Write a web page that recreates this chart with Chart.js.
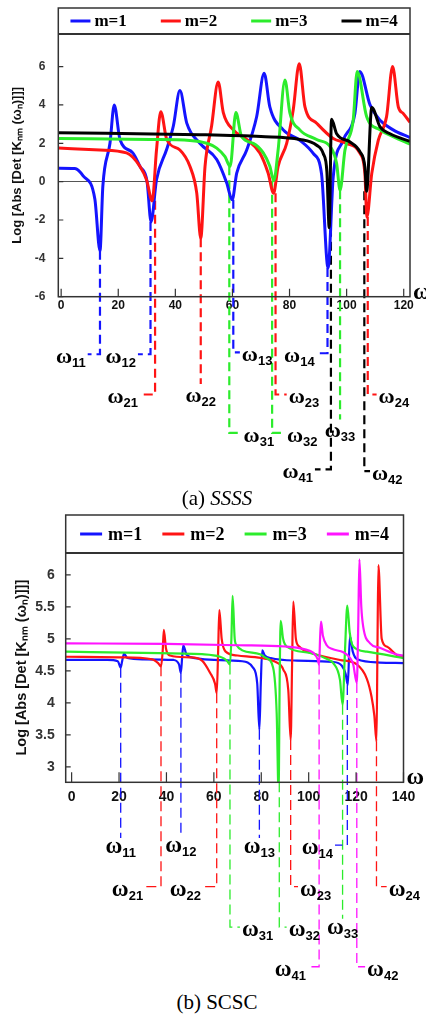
<!DOCTYPE html>
<html>
<head>
<meta charset="utf-8">
<script src="https://cdn.jsdelivr.net/npm/chart.js@4.4.1/dist/chart.umd.min.js"></script>
<style>
  body { margin: 0; background: #fff; }
  #wrap { position: relative; width: 426px; height: 1017px; overflow: hidden; }
  canvas { position: absolute; left: 0; }
  #ssss { top: 0; }
  #scsc { top: 505px; }
  .cap { position: absolute; left: 4px; width: 426px; text-align: center; font: 21px "Liberation Serif", serif; line-height: 24px; color: #000; }
</style>
</head>
<body>
<div id="wrap">
  <canvas id="ssss" width="426" height="485" style="width:426px;height:485px"></canvas>
  <canvas id="scsc" width="426" height="485" style="width:426px;height:485px"></canvas>
  <div class="cap" style="top:486px">(a) <i>SSSS</i></div>
  <div class="cap" style="top:990px">(b) SCSC</div>
</div>
<script>
// ---------- (a) SSSS ----------
const seriesLabels = ["m=1", "m=2", "m=3", "m=4"];
const ssssTicksX = [0, 20, 40, 60, 80, 100, 120];
const ssssTicksY = [-6, -4, -2, 0, 2, 4, 6];

const ssssX1 = [-1, 4.8, 7.7, 11.8, 13.6, 14.6, 17.1, 18.6, 20.6, 25.1, 27.6, 30.1, 31.5, 33.4, 37, 39.3, 41.6, 44, 48.6, 54.5, 58, 59.9, 61.5, 65, 68.5, 71.1, 73.1, 77.8, 83.6, 88.3, 91.2, 93.5, 95.3, 98.8, 102.9, 104.6, 108.2, 111.7, 116.3, 122.2];
const ssssY1 = [0.7, 0.68, 0.3, -0.9, -3.6, -0.25, 2.0, 4.0, 2.2, 1.5, 0.8, 0.0, -2.1, 0.1, 1.7, 2.9, 4.75, 3.05, 2.0, 1.15, -0.07, -0.95, 0.45, 1.65, 3.4, 5.65, 3.9, 2.7, 2.16, 1.47, 0.42, -4.5, 0.24, 2.16, 3.56, 5.75, 4.0, 3.2, 2.7, 2.3];
const ssssX2 = [-1, 13.6, 22.9, 27.6, 29.9, 31.9, 33.4, 34.9, 37, 41.6, 45.1, 47.5, 48.9, 50.4, 52.7, 55, 56.8, 60.3, 65, 69.6, 72.5, 74.4, 76, 79, 81.3, 83.4, 85.4, 89.5, 95.3, 100, 104.7, 106.4, 107.1, 108.8, 111.1, 114, 116.1, 118.1, 119.8, 122.2];
const ssssY2 = [1.75, 1.65, 1.5, 0.8, 0.1, -1.0, 1.65, 3.65, 2.2, 1.65, 0.8, -0.6, -2.95, 0.8, 2.9, 5.2, 3.6, 2.7, 2.2, 1.5, 0.45, -0.6, 0.8, 2.0, 3.75, 6.15, 3.9, 3.05, 2.25, 2.0, 1.47, 0.42, -1.85, 0.42, 2.16, 3.4, 6.0, 3.9, 3.56, 3.1];
const ssssX3 = [-1, 31.1, 45.1, 51, 54.5, 57.4, 59.2, 61.2, 63.2, 67.3, 70.8, 73.1, 74.5, 76, 78.4, 80.1, 83.6, 89.5, 94.7, 96.5, 97.7, 99.4, 102.3, 103.7, 107, 111.7, 116.3, 122.2];
const ssssY3 = [2.25, 2.2, 2.15, 2.0, 1.75, 1.3, 0.8, 3.6, 2.35, 2.0, 1.5, 0.8, 0.05, 1.65, 5.3, 3.6, 2.7, 2.2, 1.73, 0.94, -0.45, 1.64, 3.2, 5.75, 3.4, 2.7, 2.35, 1.95];
const ssssX4 = [-1, 48.6, 70, 83.6, 89.5, 91.8, 93.1, 93.9, 94.7, 96.5, 101.2, 104.7, 106.4, 107, 108.8, 111.7, 115.2, 122.2];
const ssssY4 = [2.55, 2.45, 2.35, 2.2, 1.9, 1.47, 0.5, -2.4, 3.25, 2.5, 2.07, 1.55, 0.76, -0.5, 3.87, 2.86, 2.5, 2.1];

// natural frequencies ω_mn: position on the ω axis and depth of the dip
const ssssModes = ["11", "12", "21", "22", "13", "31", "23", "32", "14", "41", "33", "24", "42"];
const ssssModeX = [13.6, 31.3, 32.9, 48.9, 60.3, 58.9, 75.1, 73.9, 93.3, 94.5, 97.7, 107.4, 106.2];
const ssssModeDip = [-3.6, -2.1, -1.0, -2.95, -0.95, 0.8, -0.6, 0.05, -4.5, -2.4, -0.45, -1.85, -0.5];
// leader lines (layout only)
const ssssLeadEnd = [-9, -9, -11.1, -10.55, -8.9, -13.1, -11.1, -13.1, -8.95, -15, -12.4, -11.1, -15.1];
const ssssLeadTo = [9.3, 26.9, 27.6, null, 62.6, 63.2, 79, 78.4, 89.5, 88.9, null, 110.5, 108.2];

// ---------- (b) SCSC ----------
const scscTicksX = [0, 20, 40, 60, 80, 100, 120, 140];
const scscTicksY = [3, 3.5, 4, 4.5, 5, 5.5, 6];

const scscX1 = [-2.5, 15, 19.5, 20.7, 21.3, 22.1, 23.5, 30, 43, 45.3, 46.1, 46.6, 47.1, 48.5, 52, 60, 72, 76.5, 78.3, 79.2, 79.8, 80.4, 81.5, 84, 95, 110, 114, 115.6, 116.5, 117.4, 118.6, 120.5, 130, 140];
const scscY1 = [4.67, 4.67, 4.65, 4.55, 4.65, 4.77, 4.7, 4.68, 4.67, 4.6, 4.47, 4.7, 4.9, 4.75, 4.7, 4.67, 4.65, 4.55, 4.3, 3.58, 4.3, 4.82, 4.74, 4.7, 4.66, 4.64, 4.58, 4.45, 4.28, 5.04, 4.8, 4.68, 4.63, 4.62];
const scscX2 = [-2.5, 20, 34, 36.5, 37.7, 38.4, 38.9, 39.8, 41.5, 50, 55, 58.4, 60.5, 61.2, 61.8, 62.3, 63.3, 65, 70, 80, 86, 89.3, 91.4, 92.4, 93, 93.5, 94.6, 96, 101.9, 113.2, 120.3, 124.5, 126.5, 127.7, 128.6, 129, 129.4, 130.8, 132.9, 137.8, 140];
const scscY2 = [4.72, 4.71, 4.68, 4.62, 4.57, 4.8, 5.14, 4.85, 4.74, 4.71, 4.66, 4.47, 4.3, 4.15, 4.8, 5.45, 5.0, 4.8, 4.74, 4.7, 4.64, 4.52, 4.2, 3.42, 4.6, 5.58, 5.0, 4.88, 4.77, 4.67, 4.6, 4.38, 4.1, 3.8, 3.4, 4.8, 6.15, 5.0, 4.88, 4.73, 4.71];
const scscX3 = [-2.5, 30, 55, 62.6, 65.5, 66.8, 67.4, 67.9, 68.8, 69.6, 72, 79.5, 82, 85, 86.5, 87.3, 87.8, 88.2, 89.2, 90.7, 100.5, 108, 110.4, 113.2, 114.3, 115.3, 116.3, 117.3, 118.8, 124.5, 140];
const scscY3 = [4.8, 4.78, 4.76, 4.72, 4.66, 4.6, 5.0, 5.67, 5.0, 4.9, 4.82, 4.76, 4.7, 4.55, 3.84, 2.6, 4.5, 5.28, 5.0, 4.88, 4.78, 4.68, 4.62, 4.36, 3.97, 4.8, 5.52, 5.1, 4.88, 4.8, 4.7];
const scscX4 = [-2.5, 40, 70, 90, 98, 102, 103.8, 104.4, 104.8, 105.2, 106, 107.6, 110, 114.6, 117.5, 118.8, 120.3, 120.9, 121.4, 122.2, 123, 125.9, 130, 137.8, 140];
const scscY4 = [4.93, 4.92, 4.9, 4.88, 4.84, 4.78, 4.68, 4.6, 5.0, 5.27, 5.05, 4.9, 4.84, 4.79, 4.7, 4.6, 4.31, 5.2, 6.24, 5.5, 5.19, 4.93, 4.86, 4.75, 4.74];

const scscModes = ["11", "12", "21", "22", "31", "13", "32", "23", "41", "14", "33", "42", "24"];
const scscModeX = [20.7, 46.1, 37.7, 61.2, 66.8, 79.2, 87.6, 92.4, 104.4, 116.3, 114.3, 120.3, 128.6];
const scscModeDip = [4.55, 4.47, 4.57, 4.15, 4.6, 3.58, 2.76, 3.42, 4.6, 4.28, 3.97, 4.31, 3.4];
const scscLeadEnd = [1.89, 1.9, 1.13, 1.13, 0.5, 1.89, 0.5, 1.13, -0.12, 1.78, 0.63, -0.12, 1.13];
const scscLeadTo = [null, null, 31, 55.4, 71, null, 90.7, 95.5, 99.7, 111.1, null, 123.8, 132.9];

const colorsA = ["#1414ff", "#ff1414", "#2cec2c", "#000000"];
const colorsB = ["#1414ff", "#ff1414", "#2cec2c", "#ff14ff"];

function curve(i, xs, ys, colors, width) {
  return {
    label: seriesLabels[i],
    data: xs.map((x, k) => ({ x: x, y: ys[k] })),
    borderColor: colors[i],
    backgroundColor: colors[i],
    borderWidth: width,
    pointRadius: 0,
    cubicInterpolationMode: "monotone",
    order: -i
  };
}

function leaders(modes, xs, dips, ends, tos, colors, width, dash) {
  return modes.map((n, i) => {
    const pts = [{ x: xs[i], y: dips[i] }, { x: xs[i], y: ends[i] }];
    if (tos[i] !== null) pts.push({ x: tos[i], y: ends[i] });
    return {
      label: "ω" + n,
      data: pts,
      borderColor: colors[+n[0] - 1],
      borderWidth: width,
      borderDash: dash,
      pointRadius: 0,
      tension: 0,
      clip: false,
      order: 10
    };
  });
}

function drawOmega(ctx, sub, x, y, align, big, small) {
  const fBig = "bold " + big + "px 'Liberation Serif', serif";
  const fSmall = "bold " + small + "px 'Liberation Sans Narrow', 'Liberation Sans', sans-serif";
  ctx.font = fBig;
  const w1 = ctx.measureText("ω").width;
  ctx.font = fSmall;
  const w2 = ctx.measureText(sub).width;
  let left = x;
  if (align === "right") left = x - w1 - w2;
  if (align === "center") left = x - (w1 + w2) / 2;
  ctx.font = fBig;
  ctx.fillText("ω", left, y);
  ctx.font = fSmall;
  ctx.fillText(sub, left + w1, y + 4);
}

// legend box, frame, inner ticks and ω labels
function marks(cfg) {
  return {
    id: "marks",
    afterDraw(chart) {
      const ctx = chart.ctx, a = chart.chartArea, x = chart.scales.x, y = chart.scales.y;
      ctx.save();
      ctx.strokeStyle = "#333";
      ctx.lineWidth = 1.2;
      ctx.beginPath();
      x.ticks.forEach(t => {
        const px = x.getPixelForValue(t.value);
        ctx.moveTo(px, a.bottom);
        ctx.lineTo(px, a.bottom - cfg.xTick);
      });
      y.ticks.forEach(t => {
        const py = y.getPixelForValue(t.value);
        ctx.moveTo(a.left, py);
        ctx.lineTo(a.left + cfg.yTick, py);
      });
      ctx.stroke();
      ctx.lineWidth = 1.5;
      ctx.strokeRect(a.left, a.top - cfg.legendBox, a.right - a.left, a.bottom - a.top + cfg.legendBox);
      ctx.lineWidth = 2.2;
      ctx.beginPath();
      ctx.moveTo(a.left, a.top);
      ctx.lineTo(a.right, a.top);
      ctx.stroke();

      // legend from the four curve datasets
      const sets = chart.data.datasets.slice(0, 4);
      const lf = "bold " + cfg.legendFont + "px 'Liberation Serif', serif";
      ctx.font = lf;
      const widths = sets.map(d => cfg.sample + cfg.gap + ctx.measureText(d.label).width);
      const total = widths.reduce((s, w) => s + w, 0) + cfg.spacing * (sets.length - 1);
      let lx = (a.left + a.right) / 2 - total / 2;
      const ly = a.top - cfg.legendBox / 2;
      ctx.textAlign = "left";
      ctx.textBaseline = "middle";
      sets.forEach((d, i) => {
        ctx.strokeStyle = d.borderColor;
        ctx.lineWidth = 3;
        ctx.beginPath();
        ctx.moveTo(lx, ly);
        ctx.lineTo(lx + cfg.sample, ly);
        ctx.stroke();
        ctx.fillStyle = "#000";
        ctx.fillText(d.label, lx + cfg.sample + cfg.gap, ly + 1);
        lx += widths[i] + cfg.spacing;
      });

      ctx.fillStyle = "#000";
      ctx.textBaseline = "alphabetic";
      ctx.font = "bold 24px 'Liberation Serif', serif";
      ctx.fillText("ω", a.right + 3, a.bottom + 2);

      cfg.modes.forEach((n, i) => {
        const py = y.getPixelForValue(cfg.ends[i]);
        const to = cfg.tos[i];
        if (to === null) {
          drawOmega(ctx, n, x.getPixelForValue(cfg.xs[i]), py + cfg.cGap, "center", cfg.big, cfg.small);
        } else if (to < cfg.xs[i]) {
          drawOmega(ctx, n, x.getPixelForValue(to) - 2, py + 9, "right", cfg.big, cfg.small);
        } else {
          drawOmega(ctx, n, x.getPixelForValue(to) + 2, py + 9, "left", cfg.big, cfg.small);
        }
      });
      ctx.restore();
    }
  };
}

const tickFont = size => ({ family: "'Liberation Sans', Arial, sans-serif", weight: "bold", size: size });
const yTitle = "Log [Abs [Det [Kₙₘ (ωₙ)]]]";

new Chart(document.getElementById("ssss"), {
  type: "line",
  data: {
    datasets: [
      curve(0, ssssX1, ssssY1, colorsA, 3),
      curve(1, ssssX2, ssssY2, colorsA, 3),
      curve(2, ssssX3, ssssY3, colorsA, 3),
      curve(3, ssssX4, ssssY4, colorsA, 3)
    ].concat(leaders(ssssModes, ssssModeX, ssssModeDip, ssssLeadEnd, ssssLeadTo, colorsA, 2.2, [9, 5]))
  },
  options: {
    responsive: false,
    animation: false,
    layout: { padding: { top: 34, left: 0, right: 16, bottom: 168.3 } },
    scales: {
      x: {
        type: "linear",
        min: -1,
        max: 122.2,
        afterBuildTicks: s => { s.ticks = ssssTicksX.map(v => ({ value: v })); },
        afterFit: s => { s.height = 20; },
        grid: { display: false, drawTicks: false },
        border: { display: false },
        ticks: { padding: 2, color: "#111", font: tickFont(12), maxRotation: 0, autoSkip: false, callback: v => String(v) }
      },
      y: {
        min: -6,
        max: 7.7,
        afterBuildTicks: s => { s.ticks = ssssTicksY.map(v => ({ value: v })); },
        afterFit: s => { s.width = 58.3; },
        grid: { drawTicks: false, lineWidth: 1, color: c => (c.tick && c.tick.value === 0 ? "#555" : "rgba(0,0,0,0)") },
        border: { display: false },
        ticks: { padding: 13, color: "#333", font: tickFont(12), callback: v => String(v) },
        title: { display: true, text: yTitle, color: "#111", font: tickFont(13), padding: { top: 10, bottom: 0 } }
      }
    },
    plugins: { tooltip: { enabled: false }, legend: { display: false } }
  },
  plugins: [marks({
    legendBox: 26, legendFont: 17, sample: 20, gap: 4, spacing: 34,
    xTick: 8, yTick: 5, big: 22, small: 13, cGap: 18,
    modes: ssssModes, xs: ssssModeX, ends: ssssLeadEnd, tos: ssssLeadTo
  })]
});

new Chart(document.getElementById("scsc"), {
  type: "line",
  data: {
    datasets: [
      curve(0, scscX1, scscY1, colorsB, 2.2),
      curve(1, scscX2, scscY2, colorsB, 2.2),
      curve(2, scscX3, scscY3, colorsB, 2.2),
      curve(3, scscX4, scscY4, colorsB, 2.2)
    ].concat(leaders(scscModes, scscModeX, scscModeDip, scscLeadEnd, scscLeadTo, colorsB, 1.3, [10, 5]))
  },
  options: {
    responsive: false,
    animation: false,
    layout: { padding: { top: 48, left: 0, right: 22.5, bottom: 187.7 } },
    scales: {
      x: {
        type: "linear",
        min: -2.5,
        max: 140,
        afterBuildTicks: s => { s.ticks = scscTicksX.map(v => ({ value: v })); },
        afterFit: s => { s.height = 20; },
        grid: { display: false, drawTicks: false },
        border: { display: false },
        ticks: { padding: 6, color: "#111", font: tickFont(14), maxRotation: 0, autoSkip: false, callback: v => String(v) }
      },
      y: {
        min: 2.76,
        max: 6.34,
        afterBuildTicks: s => { s.ticks = scscTicksY.map(v => ({ value: v })); },
        afterFit: s => { s.width = 65.7; },
        grid: { display: false, drawTicks: false },
        border: { display: false },
        ticks: { padding: 11, color: "#333", font: tickFont(14), callback: v => String(v) },
        title: { display: true, text: yTitle, color: "#111", font: tickFont(14.5), padding: { top: 13, bottom: 0 } }
      }
    },
    plugins: { tooltip: { enabled: false }, legend: { display: false } }
  },
  plugins: [marks({
    legendBox: 38, legendFont: 18, sample: 22, gap: 6, spacing: 20,
    xTick: 10, yTick: 5, big: 23, small: 13, cGap: 15,
    modes: scscModes, xs: scscModeX, ends: scscLeadEnd, tos: scscLeadTo
  })]
});
</script>
</body>
</html>
